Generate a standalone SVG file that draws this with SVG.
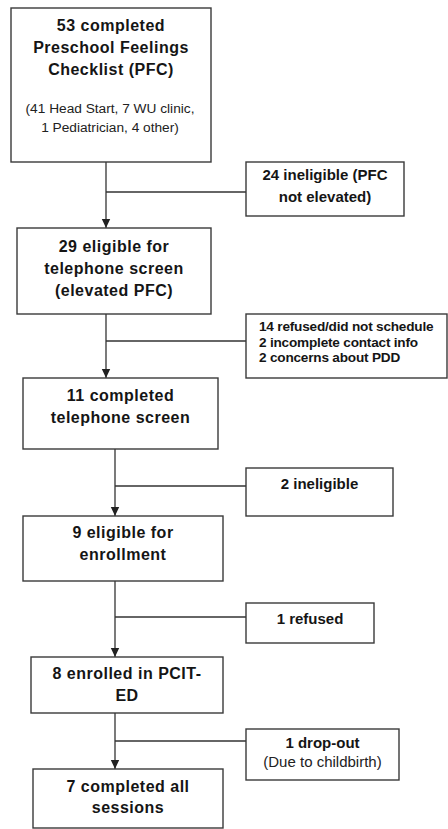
<svg xmlns="http://www.w3.org/2000/svg" width="448" height="829" viewBox="0 0 448 829">
<style>
.box{fill:#fff;stroke:#3a3a3a;stroke-width:1.4}
.ln{fill:none;stroke:#333;stroke-width:1.3}
.t{font-family:"Liberation Sans",Arial,sans-serif;font-weight:bold;font-size:16px;letter-spacing:0.5px;fill:#151515;text-anchor:middle}
.s{font-family:"Liberation Sans",Arial,sans-serif;font-size:13.7px;fill:#222;text-anchor:middle}
.sb{font-family:"Liberation Sans",Arial,sans-serif;font-weight:bold;font-size:15px;fill:#151515;text-anchor:middle}
.sr{font-family:"Liberation Sans",Arial,sans-serif;font-size:15px;fill:#222;text-anchor:middle}
.lb{font-family:"Liberation Sans",Arial,sans-serif;font-weight:bold;font-size:13.6px;fill:#151515;letter-spacing:-0.2px}
</style>
<defs>
<marker id="arr" markerUnits="userSpaceOnUse" markerWidth="10" markerHeight="10" refX="9" refY="5" orient="auto">
<path d="M0,0.8 L9,5 L0,9.2 Z" fill="#222"/>
</marker>
</defs>
<g id="connectors">
<line class="ln" x1="106" y1="162" x2="106" y2="228" marker-end="url(#arr)"/>
<line class="ln" x1="106" y1="192" x2="246" y2="192"/>
<line class="ln" x1="106" y1="314" x2="106" y2="378" marker-end="url(#arr)"/>
<line class="ln" x1="106" y1="341" x2="246" y2="341"/>
<line class="ln" x1="115" y1="449" x2="115" y2="516" marker-end="url(#arr)"/>
<line class="ln" x1="115" y1="486" x2="246" y2="486"/>
<line class="ln" x1="115" y1="581" x2="115" y2="657" marker-end="url(#arr)"/>
<line class="ln" x1="115" y1="617" x2="246" y2="617"/>
<line class="ln" x1="115" y1="713" x2="115" y2="769" marker-end="url(#arr)"/>
<line class="ln" x1="115" y1="741" x2="246" y2="741"/>
</g>
<g id="n1">
<rect class="box" x="11" y="8" width="200" height="154"/>
<text class="t" x="111" y="31">53 completed</text>
<text class="t" x="111" y="53">Preschool Feelings</text>
<text class="t" x="111" y="75">Checklist (PFC)</text>
<text class="s" x="110" y="113">(41 Head Start, 7 WU clinic,</text>
<text class="s" x="110" y="132">1 Pediatrician, 4 other)</text>
</g>
<g id="n2">
<rect class="box" x="246" y="162" width="158" height="54"/>
<text class="sb" x="325" y="180">24 ineligible (PFC</text>
<text class="sb" x="325" y="202">not elevated)</text>
</g>
<g id="n3">
<rect class="box" x="17" y="228" width="194" height="86"/>
<text class="t" x="114" y="252">29 eligible for</text>
<text class="t" x="114" y="274">telephone screen</text>
<text class="t" x="114" y="296">(elevated PFC)</text>
</g>
<g id="n4">
<rect class="box" x="246" y="314" width="201" height="64"/>
<text class="lb" x="259" y="331">14 refused/did not schedule</text>
<text class="lb" x="259" y="347">2 incomplete contact info</text>
<text class="lb" x="259" y="362">2 concerns about PDD</text>
</g>
<g id="n5">
<rect class="box" x="23" y="378" width="195" height="71"/>
<text class="t" x="120.5" y="401">11 completed</text>
<text class="t" x="120.5" y="423">telephone screen</text>
</g>
<g id="n6">
<rect class="box" x="246" y="468" width="147" height="48"/>
<text class="sb" x="319.5" y="489">2 ineligible</text>
</g>
<g id="n7">
<rect class="box" x="23" y="516" width="200" height="65"/>
<text class="t" x="123" y="538">9 eligible for</text>
<text class="t" x="123" y="560">enrollment</text>
</g>
<g id="n8">
<rect class="box" x="246" y="603" width="128" height="40"/>
<text class="sb" x="310" y="624">1 refused</text>
</g>
<g id="n9">
<rect class="box" x="31" y="657" width="192" height="56"/>
<text class="t" x="127" y="679">8 enrolled in PCIT-</text>
<text class="t" x="127" y="701">ED</text>
</g>
<g id="n10">
<rect class="box" x="246" y="729" width="153" height="51"/>
<text class="sb" x="322.5" y="748">1 drop-out</text>
<text class="sr" x="322.5" y="767">(Due to childbirth)</text>
</g>
<g id="n11">
<rect class="box" x="33" y="769" width="190" height="59"/>
<text class="t" x="128" y="792">7 completed all</text>
<text class="t" x="128" y="813">sessions</text>
</g>
</svg>
